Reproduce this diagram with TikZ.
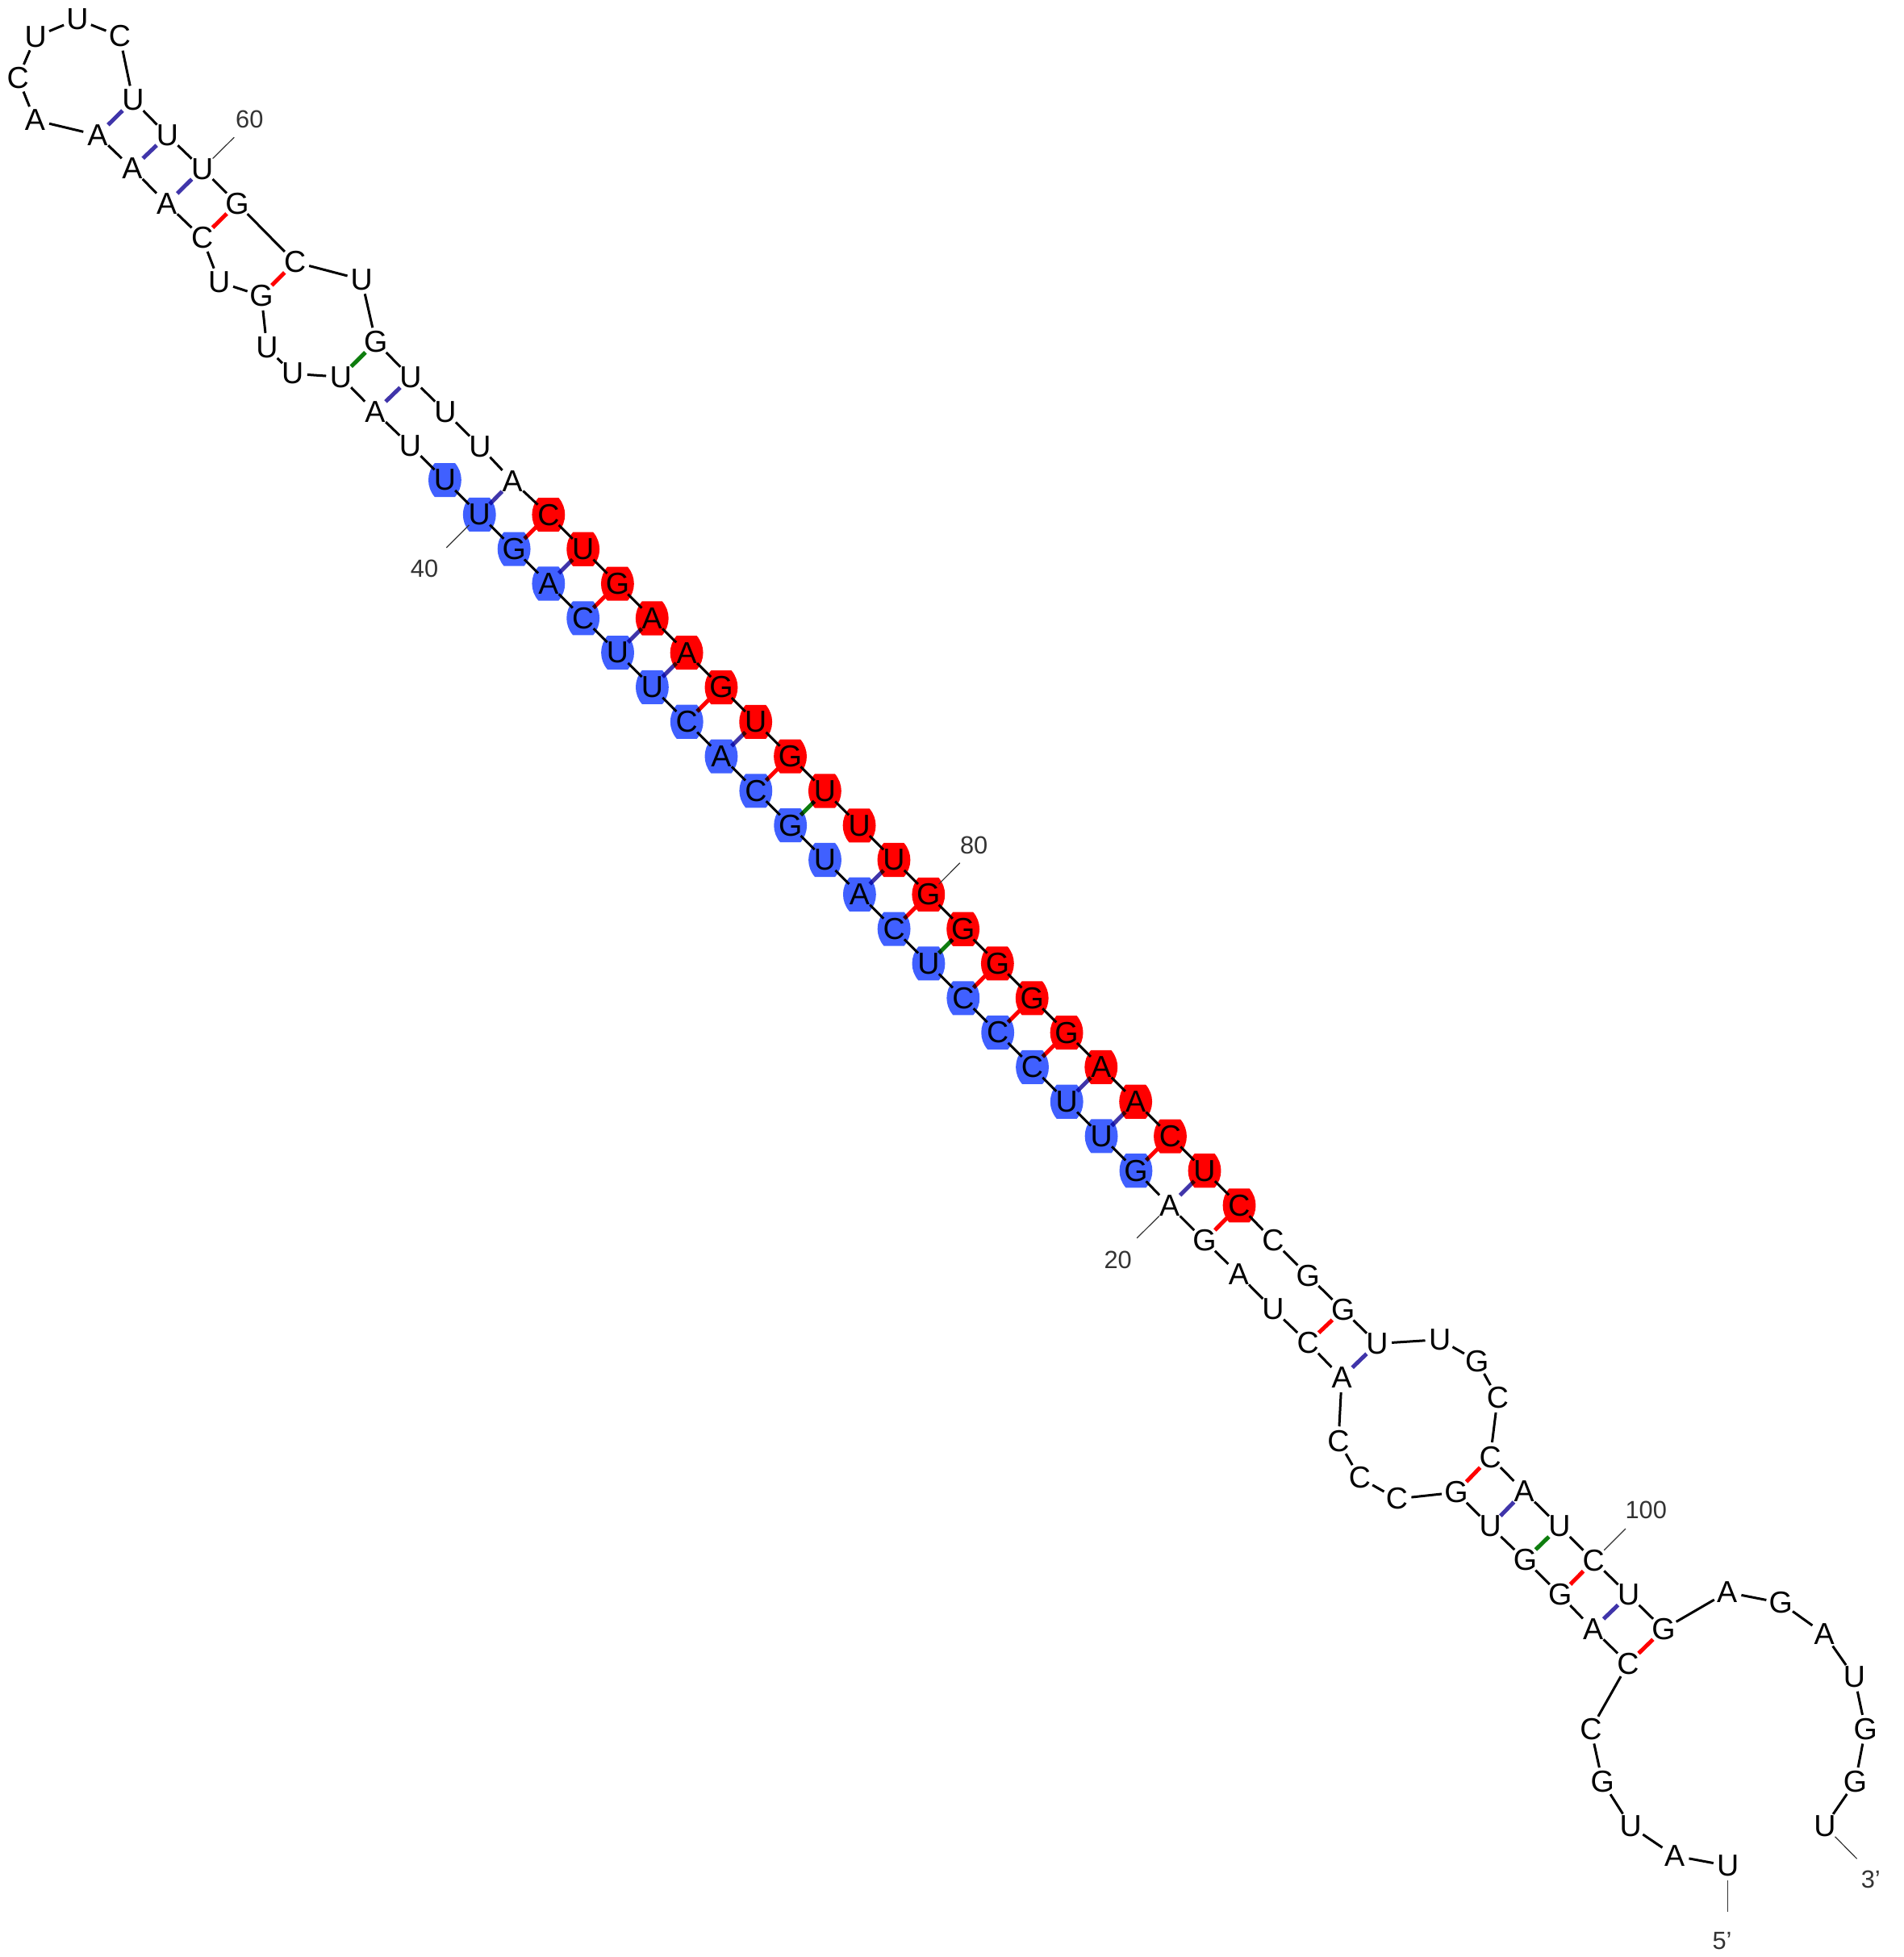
\documentclass[tikz,border=0pt]{standalone}
\usepackage{fontspec}
\setmainfont{Liberation Sans}
\pgfdeclarelayer{bg}
\pgfsetlayers{bg,main}
\definecolor{hlblue}{HTML}{4060FF}
\definecolor{hlred}{HTML}{FF0000}
\definecolor{bondau}{HTML}{4035AA}
\definecolor{bondgc}{HTML}{FF0000}
\definecolor{bondgu}{HTML}{0E7D0E}
\definecolor{numgray}{HTML}{333333}
\begin{document}
\begin{tikzpicture}[x=0.77375pt,y=-0.77375pt,
	nt/.style={circle,inner sep=-8pt,minimum size=17.8pt,font=\fontsize{18.8}{22}\selectfont},
	num/.style={inner sep=0pt,text=numgray,font=\fontsize{15.4}{18}\selectfont},
	backbone/.style={line width=1.5pt,black},
	tick/.style={line width=.6pt,numgray},
	au/.style={line width=2.5pt,bondau,blend mode=multiply},
	gc/.style={line width=2.5pt,bondgc,blend mode=multiply},
	gu/.style={line width=2.5pt,bondgu,blend mode=multiply},
	hlbox/.pic={\fill[#1] (-8.1,-13.6)--(8.1,-13.6) .. controls (14.9,-5.76) and (14.9,5.76) .. (8.1,13.6)--(-8.1,13.6) .. controls (-14.9,5.76) and (-14.9,-5.76) .. (-8.1,-13.6)--cycle;}]

	\useasboundingbox (0,0) rectangle (1525,1568);

	% 5' loop
	\node[nt] (n1) at (1384.2,1494.9){U};
	\node[nt] (n2) at (1341.5,1486.9){A};
	\node[nt] (n3) at (1306.4,1463.2){U};
	\node[nt] (n4) at (1283.8,1427.7){G};
	\node[nt] (n5) at (1274.5,1385.5){C};
	\node[nt] (n6) at (1304.3,1332.9){C};
	\node[nt] (n7) at (1276.2,1305.3){A};
	\node[nt] (n8) at (1249.8,1277.8){G};
	\node[nt] (n9) at (1221.8,1249.8){G};
	\node[nt] (n10) at (1193.9,1223){U};
	\node[nt] (n11) at (1166.6,1195.7){G};
	\node[nt] (n12) at (1119,1200.9){C};
	\node[nt] (n13) at (1089.3,1184){C};
	\node[nt] (n14) at (1072.3,1154.6){C};
	\node[nt] (n15) at (1074.9,1103.9){A};
	\node[nt] (n16) at (1047.9,1075.9){C};
	\node[nt] (n17) at (1019.9,1049){U};
	\node[nt] (n18) at (992.3,1021){A};
	\node[nt] (n19) at (965,994){G};
	\node[nt] (n20) at (937,966){A};

	% long stem, left strand
	\node[nt] (n21) at (910,938){G};
	\node[nt] (n22) at (882.3,910.3){U};
	\node[nt] (n23) at (854.6,882.7){U};
	\node[nt] (n24) at (827,855){C};
	\node[nt] (n25) at (799.3,827.3){C};
	\node[nt] (n26) at (771.6,799.7){C};
	\node[nt] (n27) at (743.9,772){U};
	\node[nt] (n28) at (716.2,744.3){C};
	\node[nt] (n29) at (688.6,716.6){A};
	\node[nt] (n30) at (660.9,689){U};
	\node[nt] (n31) at (633.2,661.3){G};
	\node[nt] (n32) at (605.5,633.6){C};
	\node[nt] (n33) at (577.8,606){A};
	\node[nt] (n34) at (550.2,578.3){C};
	\node[nt] (n35) at (522.5,550.6){U};
	\node[nt] (n36) at (494.8,522.9){U};
	\node[nt] (n37) at (467.1,495.3){C};
	\node[nt] (n38) at (439.4,467.6){A};
	\node[nt] (n39) at (411.8,439.9){G};
	\node[nt] (n40) at (384.1,412.3){U};
	\node[nt] (n41) at (356.4,384.6){U};

	% top arm
	\node[nt] (n42) at (328.7,357){U};
	\node[nt] (n43) at (300.5,330){A};
	\node[nt] (n44) at (273,302){U};
	\node[nt] (n45) at (234.4,299.4){U};
	\node[nt] (n46) at (213.9,278.5){U};
	\node[nt] (n47) at (209.4,237){G};
	\node[nt] (n48) at (175.6,226){U};
	\node[nt] (n49) at (162,190.6){C};
	\node[nt] (n50) at (133.6,163.3){A};
	\node[nt] (n51) at (106,135){A};
	\node[nt] (n52) at (78.2,108.3){A};
	\node[nt] (n53) at (28,96.3){A};
	\node[nt] (n54) at (14.4,62.5){C};
	\node[nt] (n55) at (28.6,29.5){U};
	\node[nt] (n56) at (62,15.5){U};
	\node[nt] (n57) at (95.9,29){C};
	\node[nt] (n58) at (106.6,80.3){U};
	\node[nt] (n59) at (134,108.3){U};
	\node[nt] (n60) at (162,135.3){U};
	\node[nt] (n61) at (190,163){G};
	\node[nt] (n62) at (236.3,210){C};
	\node[nt] (n63) at (289.7,224){U};
	\node[nt] (n64) at (301.1,274){G};
	\node[nt] (n65) at (329,302.3){U};
	\node[nt] (n66) at (356.8,330){U};
	\node[nt] (n67) at (384.5,357.7){U};
	\node[nt] (n68) at (410.5,385.3){A};

	% long stem, right strand
	\node[nt] (n69) at (439.4,412.4){C};
	\node[nt] (n70) at (467.1,440){U};
	\node[nt] (n71) at (494.7,467.7){G};
	\node[nt] (n72) at (522.4,495.4){A};
	\node[nt] (n73) at (550.1,523){A};
	\node[nt] (n74) at (577.8,550.7){G};
	\node[nt] (n75) at (605.4,578.4){U};
	\node[nt] (n76) at (633.1,606){G};
	\node[nt] (n77) at (660.8,633.7){U};
	\node[nt] (n78) at (688.4,661.4){U};
	\node[nt] (n79) at (716.1,689){U};
	\node[nt] (n80) at (743.8,716.7){G};
	\node[nt] (n81) at (771.5,744.4){G};
	\node[nt] (n82) at (799.1,772){G};
	\node[nt] (n83) at (826.8,799.7){G};
	\node[nt] (n84) at (854.5,827.4){G};
	\node[nt] (n85) at (882.1,855){A};
	\node[nt] (n86) at (909.8,882.7){A};
	\node[nt] (n87) at (937.5,910.4){C};
	\node[nt] (n88) at (965,938){U};
	\node[nt] (n89) at (992.8,965.8){C};

	% 3' side
	\node[nt] (n90) at (1019.9,994){C};
	\node[nt] (n91) at (1047.9,1022){G};
	\node[nt] (n92) at (1075.9,1049.5){G};
	\node[nt] (n93) at (1103.3,1076.5){U};
	\node[nt] (n94) at (1153.5,1073.3){U};
	\node[nt] (n95) at (1183.2,1090.4){G};
	\node[nt] (n96) at (1199.8,1120.1){C};
	\node[nt] (n97) at (1193.9,1167.3){C};
	\node[nt] (n98) at (1221,1195){A};
	\node[nt] (n99) at (1249.3,1223){U};
	\node[nt] (n100) at (1276.7,1250.4){C};
	\node[nt] (n101) at (1304.7,1277.8){U};
	\node[nt] (n102) at (1332.7,1305.3){G};
	\node[nt] (n103) at (1383.5,1275.8){A};
	\node[nt] (n104) at (1426.6,1284.2){G};
	\node[nt] (n105) at (1461.5,1309.2){A};
	\node[nt] (n106) at (1485.6,1343.7){U};
	\node[nt] (n107) at (1494.5,1385.5){G};
	\node[nt] (n108) at (1486.3,1427.7){G};
	\node[nt] (n109) at (1461.9,1463.2){U};

	% highlighted strands
	\begin{pgfonlayer}{bg}
		\path (n21) pic{hlbox=hlblue} (n22) pic{hlbox=hlblue} (n23) pic{hlbox=hlblue} (n24) pic{hlbox=hlblue}
			(n25) pic{hlbox=hlblue} (n26) pic{hlbox=hlblue} (n27) pic{hlbox=hlblue} (n28) pic{hlbox=hlblue}
			(n29) pic{hlbox=hlblue} (n30) pic{hlbox=hlblue} (n31) pic{hlbox=hlblue} (n32) pic{hlbox=hlblue}
			(n33) pic{hlbox=hlblue} (n34) pic{hlbox=hlblue} (n35) pic{hlbox=hlblue} (n36) pic{hlbox=hlblue}
			(n37) pic{hlbox=hlblue} (n38) pic{hlbox=hlblue} (n39) pic{hlbox=hlblue} (n40) pic{hlbox=hlblue}
			(n41) pic{hlbox=hlblue};
		\path (n69) pic{hlbox=hlred} (n70) pic{hlbox=hlred} (n71) pic{hlbox=hlred} (n72) pic{hlbox=hlred}
			(n73) pic{hlbox=hlred} (n74) pic{hlbox=hlred} (n75) pic{hlbox=hlred} (n76) pic{hlbox=hlred}
			(n77) pic{hlbox=hlred} (n78) pic{hlbox=hlred} (n79) pic{hlbox=hlred} (n80) pic{hlbox=hlred}
			(n81) pic{hlbox=hlred} (n82) pic{hlbox=hlred} (n83) pic{hlbox=hlred} (n84) pic{hlbox=hlred}
			(n85) pic{hlbox=hlred} (n86) pic{hlbox=hlred} (n87) pic{hlbox=hlred} (n88) pic{hlbox=hlred}
			(n89) pic{hlbox=hlred};
	\end{pgfonlayer}

	% backbone
	\draw[backbone] (n1)--(n2)--(n3)--(n4)--(n5)--(n6)--(n7)--(n8)--(n9)--(n10)--(n11)--(n12)--(n13)--(n14)--(n15)--(n16)--(n17)--(n18)--(n19)--(n20);
	\draw[backbone] (n20)--(n21)--(n22)--(n23)--(n24)--(n25)--(n26)--(n27)--(n28)--(n29)--(n30)--(n31)--(n32)--(n33)--(n34)--(n35)--(n36)--(n37)--(n38)--(n39)--(n40);
	\draw[backbone] (n40)--(n41)--(n42)--(n43)--(n44)--(n45)--(n46)--(n47)--(n48)--(n49)--(n50)--(n51)--(n52)--(n53)--(n54)--(n55)--(n56)--(n57)--(n58)--(n59)--(n60);
	\draw[backbone] (n60)--(n61)--(n62)--(n63)--(n64)--(n65)--(n66)--(n67)--(n68)--(n69)--(n70)--(n71)--(n72)--(n73)--(n74)--(n75)--(n76)--(n77)--(n78)--(n79)--(n80);
	\draw[backbone] (n80)--(n81)--(n82)--(n83)--(n84)--(n85)--(n86)--(n87)--(n88)--(n89)--(n90)--(n91)--(n92)--(n93)--(n94)--(n95)--(n96)--(n97)--(n98)--(n99)--(n100);
	\draw[backbone] (n100)--(n101)--(n102)--(n103)--(n104)--(n105)--(n106)--(n107)--(n108)--(n109);

	% base pairs
	\draw[gc] (n6)--(n102);
	\draw[au] (n7)--(n101);
	\draw[gc] (n8)--(n100);
	\draw[gu] (n9)--(n99);
	\draw[au] (n10)--(n98);
	\draw[gc] (n11)--(n97);
	\draw[au] (n15)--(n93);
	\draw[gc] (n16)--(n92);
	\draw[gc] (n19)--(n89);
	\draw[au] (n20)--(n88);
	\draw[gc] (n21)--(n87);
	\draw[au] (n22)--(n86);
	\draw[au] (n23)--(n85);
	\draw[gc] (n24)--(n84);
	\draw[gc] (n25)--(n83);
	\draw[gc] (n26)--(n82);
	\draw[gu] (n27)--(n81);
	\draw[gc] (n28)--(n80);
	\draw[au] (n29)--(n79);
	\draw[gu] (n31)--(n77);
	\draw[gc] (n32)--(n76);
	\draw[au] (n33)--(n75);
	\draw[gc] (n34)--(n74);
	\draw[au] (n35)--(n73);
	\draw[au] (n36)--(n72);
	\draw[gc] (n37)--(n71);
	\draw[au] (n38)--(n70);
	\draw[gc] (n39)--(n69);
	\draw[au] (n40)--(n68);
	\draw[au] (n43)--(n65);
	\draw[gu] (n44)--(n64);
	\draw[gc] (n47)--(n62);
	\draw[gc] (n49)--(n61);
	\draw[au] (n50)--(n60);
	\draw[au] (n51)--(n59);
	\draw[au] (n52)--(n58);

	% numbering
	\coordinate (t20) at (910.8,992);
	\coordinate (t40) at (357.6,438.8);
	\coordinate (t60) at (187.6,110);
	\coordinate (t80) at (769,691.4);
	\coordinate (t100) at (1302.3,1224.8);
	\coordinate (t5) at (1384.2,1531.9);
	\coordinate (t3) at (1487.6,1489.3);
	\draw[tick] (n20)--(t20);
	\draw[tick] (n40)--(t40);
	\draw[tick] (n60)--(t60);
	\draw[tick] (n80)--(t80);
	\draw[tick] (n100)--(t100);
	\draw[tick] (n1)--(t5);
	\draw[tick] (n109)--(t3);
	\node[num] (l20) at (895.6,1009.6){20};
	\node[num] (l40) at (340,455.6){40};
	\node[num] (l60) at (199.9,95.4){60};
	\node[num] (l80) at (780.2,677){80};
	\node[num] (l100) at (1318.7,1210.1){100};
	\node[num] (l5) at (1379.6,1555.2){5’};
	\node[num] (l3) at (1498.7,1505.7){3’};
\end{tikzpicture}
\end{document}
